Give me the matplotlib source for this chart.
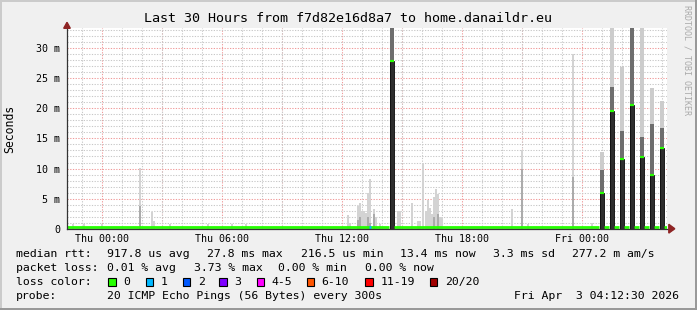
import matplotlib
matplotlib.use("Agg")
import matplotlib.pyplot as plt
from matplotlib.patches import Rectangle, Polygon
from matplotlib.ticker import MultipleLocator

W, H = 697, 310

# time in hours after Thu 00:00, values in milliseconds
smoke_t = [-1.45, -0.9, 0.0, 1.9, 2.5, 2.6, 3.4, 5.3, 6.5, 7.2,
           12.3, 12.4, 12.8, 12.9, 13.0, 13.1, 13.2, 13.3, 13.4, 13.6, 13.7, 13.9,
           14.8, 14.9, 15.5, 15.8, 15.9, 16.05, 16.2, 16.3, 16.4, 16.5, 16.6, 16.7,
           16.8, 16.9, 17.0, 20.5, 21.0, 21.3, 23.55, 24.5]
smoke_top = [0.8, 0.8, 0.8, 10.1, 2.7, 1.2, 0.8, 0.8, 0.8, 0.8,
             2.2, 1.0, 3.8, 4.2, 3.0, 3.0, 2.6, 6.0, 8.3, 3.3, 2.0, 0.7,
             3.0, 3.0, 4.2, 1.3, 1.3, 11.0, 3.0, 4.7, 3.4, 2.4, 5.2, 6.6,
             5.8, 1.9, 1.9, 3.3, 13.1, 0.7, 29.1, 1.0]
smoke_mid = [0, 0, 0, 3.7, 0, 0, 0, 0, 0, 0,
             0, 0, 1.5, 2.0, 0, 0, 0, 2.0, 1.0, 2.5, 0, 0,
             0, 0, 0, 0, 0, 0, 0, 0, 0, 0, 2.0, 0,
             2.4, 0, 0, 0, 10.0, 0, 8.6, 0]

# steps where the median left the baseline
spike_t = [14.5, 25.0, 25.5, 26.0, 26.5, 27.0, 27.5, 28.0]
spike_med = [27.8, 5.9, 19.6, 11.5, 20.5, 11.9, 9.0, 13.4]
spike_mid = [40, 9.7, 23.6, 16.3, 40, 15.2, 17.4, 16.7]
spike_top = [40, 12.7, 40, 26.9, 40, 40, 23.3, 21.3]

base_median = 0.35
loss_t = [13.4]
loss_idx = [1]

t_start, t_end = -1.735, 28.265
y_max = 33.3

ytick_vals = [0, 5, 10, 15, 20, 25, 30]
ytick_labels = ['0', '5 m', '10 m', '15 m', '20 m', '25 m', '30 m']
xtick_hours = [0, 6, 12, 18, 24]
xtick_labels = ['Thu 00:00', 'Thu 06:00', 'Thu 12:00', 'Thu 18:00', 'Fri 00:00']

title = 'Last 30 Hours from f7d82e16d8a7 to home.danaildr.eu'
rtt_stats = ['917.8 us avg', '27.8 ms max', '216.5 us min', '13.4 ms now', '3.3 ms sd', '277.2 m am/s']
loss_stats = ['0.01 % avg', '3.73 % max', '0.00 % min', '0.00 % now']
loss_bins = ['0', '1', '2', '3', '4-5', '6-10', '11-19', '20/20']
loss_colors = ['#26ff00', '#00b8ff', '#0059ff', '#7e00ff', '#ff00ff', '#ff5500', '#ff0000', '#a10000']
probe_text = '20 ICMP Echo Pings (56 Bytes) every 300s'
stamp = 'Fri Apr  3 04:12:30 2026'

MONO = 'DejaVu Sans Mono'


def fx(x):
    return x / W


def fy(y):
    return 1 - y / H


fig = plt.figure(figsize=(W / 100, H / 100), dpi=100)
fig.patch.set_facecolor('#f0f0f0')

ax_left, ax_right, ax_top, ax_bottom = 67, 667, 28.3, 228.7
ax_w = (ax_right - ax_left) / W
ax = fig.add_axes([fx(ax_left), fy(ax_bottom), ax_w, (ax_bottom - ax_top) / H])
ax.set_facecolor('white')
ax.set_xlim(t_start, t_end)
ax.set_ylim(0, y_max)

# smoke near the baseline
sw = 0.1
ax.bar(smoke_t, smoke_top, width=sw, color='#d3d3d3', lw=0, zorder=2)
ax.bar(smoke_t, smoke_mid, width=sw, color='#ababab', lw=0, zorder=2)

# elevated medians
bw = 0.2
ax.bar(spike_t, spike_top, width=bw, color='#cccccc', lw=0, zorder=2)
ax.bar(spike_t, spike_mid, width=bw, color='#6e6e6e', lw=0, zorder=2)
ax.bar(spike_t, spike_med, width=bw, color='#2e2e2e', edgecolor='#0a0a0a', lw=0.6, zorder=2)
ax.hlines(spike_med, [t - bw / 2 for t in spike_t], [t + bw / 2 for t in spike_t],
          color=loss_colors[0], lw=1.6, zorder=4)

# baseline median, broken where the median jumped
edges = [t_start]
for t in spike_t:
    edges += [t - bw / 2 - 0.03, t + bw / 2 + 0.03]
edges.append(t_end)
ax.hlines([base_median] * (len(edges) // 2), edges[0::2], edges[1::2],
          color=loss_colors[0], lw=2.0, zorder=3)
ax.hlines([base_median] * len(loss_t), [t - 0.05 for t in loss_t], [t + 0.05 for t in loss_t],
          color=[loss_colors[i] for i in loss_idx], lw=2.0, zorder=3)

# axes, ticks, arrows
for s in ax.spines.values():
    s.set_visible(False)
ax.plot([0, 1.01], [0, 0], color='#333333', lw=0.9, transform=ax.transAxes, clip_on=False, zorder=5)
ax.plot([0, 0], [0, 1.02], color='#333333', lw=0.9, transform=ax.transAxes, clip_on=False, zorder=5)
ax.add_patch(Polygon([[1.003, -0.022], [1.003, 0.022], [1.013, 0]], closed=True,
                     transform=ax.transAxes, clip_on=False, color='#8e2424', zorder=6))
ax.add_patch(Polygon([[-0.0055, 1.0], [0.0055, 1.0], [0, 1.03]], closed=True,
                     transform=ax.transAxes, clip_on=False, color='#8e2424', zorder=6))

ax.set_xticks(xtick_hours, xtick_labels)
ax.set_yticks(ytick_vals, ytick_labels)
ax.xaxis.set_minor_locator(MultipleLocator(1))
ax.yaxis.set_minor_locator(MultipleLocator(1))
ax.tick_params(which='both', length=0)
ax.tick_params(axis='x', pad=3.5, labelsize=7.2)
ax.tick_params(axis='y', pad=5, labelsize=7.2)
for lab in ax.get_xticklabels() + ax.get_yticklabels():
    lab.set_family(MONO)

# grid: minor every hour / 1 ms, major every 3 hours / 5 ms
ax.grid(which='minor', color='#c8c8c8', lw=0.75, ls=(0, (1.2, 1.4)), zorder=0)
ax.yaxis.grid(True, which='major', color='#f09a9a', lw=0.75, ls=(0, (1.2, 1.4)), zorder=0)
ax.xaxis.grid(False, which='major')
for h in range(0, 28, 3):
    ax.axvline(h, color='#f09a9a', lw=0.75, ls=(0, (1.2, 1.4)), zorder=0.5)
ax.set_axisbelow(True)

ax.set_ylabel('Seconds', family=MONO, fontsize=8.3)
ax.yaxis.set_label_coords((16 - ax_left) / (ax_right - ax_left), 0.5)

# title and watermark
fig.text(fx(347.5), fy(19), title, ha='center', va='center', family=MONO, fontsize=9.6)
fig.text(fx(686.5), fy(60), 'RRDTOOL / TOBI OETIKER', ha='center', va='center',
         rotation=270, family=MONO, fontsize=6, color='#aaaaaa')

# legend rows
row_y = [254, 268, 281.7, 296]
fs = 8.25
fig.text(fx(16), fy(row_y[0]), 'median rtt:', va='center', family=MONO, fontsize=fs)
for x, s in zip([107.3, 207.3, 300.7, 400.3, 493, 572.3], rtt_stats):
    fig.text(fx(x), fy(row_y[0]), s, va='center', family=MONO, fontsize=fs)
fig.text(fx(16), fy(row_y[1]), 'packet loss:', va='center', family=MONO, fontsize=fs)
for x, s in zip([107.3, 194, 278.3, 365.3], loss_stats):
    fig.text(fx(x), fy(row_y[1]), s, va='center', family=MONO, fontsize=fs)
fig.text(fx(16), fy(row_y[2]), 'loss color:', va='center', family=MONO, fontsize=fs)
for x, s, c in zip([108.3, 145.7, 182.7, 219.3, 256.7, 306.7, 365.3, 429.7], loss_bins, loss_colors):
    fig.add_artist(Rectangle((fx(x), fy(row_y[2] + 3.8)), 7.6 / W, 7.6 / H,
                             facecolor=c, edgecolor='black', lw=0.8, transform=fig.transFigure))
    fig.text(fx(x + 15), fy(row_y[2]), s, va='center', family=MONO, fontsize=fs)
fig.text(fx(16), fy(row_y[3]), 'probe:', va='center', family=MONO, fontsize=fs)
fig.text(fx(107.3), fy(row_y[3]), probe_text, va='center', family=MONO, fontsize=fs)
fig.text(fx(513.7), fy(row_y[3]), stamp, va='center', family=MONO, fontsize=fs)

# 3d frame
fig.add_artist(Rectangle((0, 1 - 2 / H), 1, 2 / H, color='#cbcbcb', lw=0, transform=fig.transFigure))
fig.add_artist(Rectangle((0, 0), 2 / W, 1, color='#cbcbcb', lw=0, transform=fig.transFigure))
fig.add_artist(Rectangle((0, 0), 1, 2 / H, color='#999999', lw=0, transform=fig.transFigure))
fig.add_artist(Rectangle((1 - 2 / W, 0), 2 / W, 1, color='#999999', lw=0, transform=fig.transFigure))

fig.savefig('out.png', dpi=100, facecolor=fig.get_facecolor())
